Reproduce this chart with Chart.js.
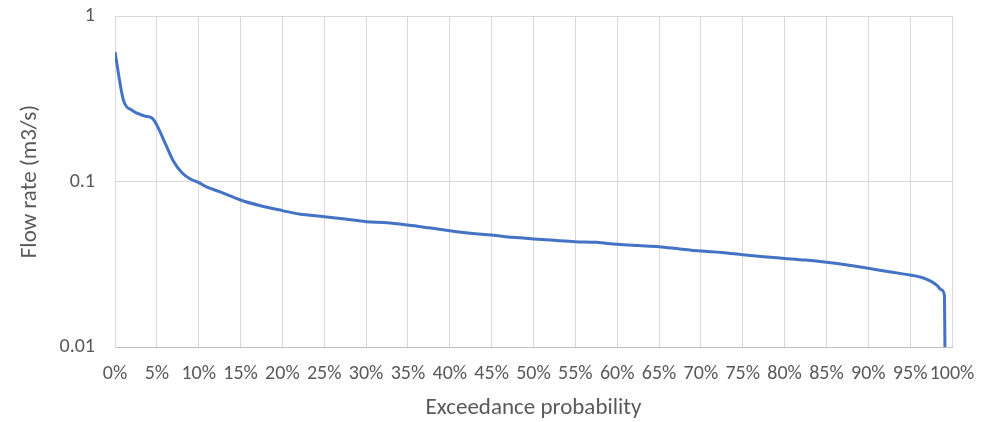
<!DOCTYPE html>
<html>
<head>
<meta charset="utf-8">
<script src="https://cdn.jsdelivr.net/npm/chart.js@4.4.1/dist/chart.umd.min.js"></script>
<style>
  html, body { margin: 0; padding: 0; background: #fff; }
  #wrap { width: 1000px; height: 422px; position: relative; }
</style>
</head>
<body>
<div id="wrap"><canvas id="fdc"></canvas></div>
<script>
// flow duration curve
const exceedance = [0, 0.01, 0.02, 0.035, 0.045, 0.05, 0.06, 0.07, 0.08, 0.09, 0.10, 0.11, 0.125,
  0.15, 0.175, 0.20, 0.22, 0.25, 0.275, 0.30, 0.325, 0.35, 0.375, 0.40, 0.425, 0.45, 0.475, 0.50,
  0.525, 0.55, 0.575, 0.60, 0.625, 0.65, 0.675, 0.70, 0.725, 0.75, 0.775, 0.80, 0.825, 0.85, 0.875,
  0.90, 0.925, 0.95, 0.965, 0.975, 0.982, 0.987, 0.991, 0.992];
const flowRate = [0.606, 0.311, 0.270, 0.249, 0.240, 0.219, 0.170, 0.132, 0.113, 0.1035, 0.0985, 0.0925, 0.0868,
  0.0773, 0.0711, 0.0667, 0.0636, 0.0613, 0.0593, 0.0572, 0.0564, 0.0546, 0.0525, 0.0504, 0.0486, 0.0475, 0.046, 0.045,
  0.0441, 0.0433, 0.0429, 0.0417, 0.041, 0.0404, 0.0391, 0.038, 0.0373, 0.0361, 0.0351, 0.0343, 0.0335, 0.0325, 0.0313,
  0.0299, 0.0285, 0.0272, 0.0262, 0.0249, 0.0236, 0.0222, 0.0205, 0.005];
const yTicks = [0.01, 0.1, 1];

const FONT = "Carlito, 'Liberation Sans', Arial, sans-serif";
const TEXT = '#595959';
const GRID = '#d9d9d9';

const points = exceedance.map((x, i) => ({ x, y: flowRate[i] }));

new Chart(document.getElementById('fdc').getContext('2d'), {
  type: 'line',
  data: {
    datasets: [{
      data: points,
      borderColor: '#4472c4',
      borderWidth: 3,
      pointRadius: 0,
      fill: false,
      cubicInterpolationMode: 'monotone',
    }],
  },
  options: {
    responsive: true, maintainAspectRatio: false, animation: false,
    layout: { padding: { top: 16, right: 48, bottom: 0, left: 0 } },
    plugins: { legend: { display: false }, tooltip: { enabled: false } },
    scales: {
      x: {
        type: 'linear', min: 0, max: 1,
        ticks: {
          stepSize: 0.05, color: TEXT, padding: 15, maxRotation: 0, autoSkip: false,
          font: { family: FONT, size: 20 },
          callback: v => Math.round(v * 100) + '%',
        },
        grid: { color: GRID, lineWidth: 1, drawTicks: false },
        border: { color: '#bfbfbf' },
        title: { display: true, text: 'Exceedance probability', color: TEXT, font: { family: FONT, size: 23 }, padding: { top: 4, bottom: 0 } },
        afterFit: s => { s.height = 422 - 347; },
      },
      y: {
        type: 'logarithmic', min: 0.01, max: 1,
        afterBuildTicks: s => { s.ticks = yTicks.map(v => ({ value: v })); },
        ticks: {
          color: TEXT, padding: 20,
          font: { family: FONT, size: 20 },
          callback: v => String(v),
        },
        grid: { color: GRID, lineWidth: 1, drawTicks: false },
        border: { color: '#d9d9d9' },
        title: { display: true, text: 'Flow rate (m3/s)', color: TEXT, font: { family: FONT, size: 23 }, padding: { top: 16, bottom: 0 } },
        afterFit: s => { s.width = 115; s.paddingTop = 0; s.paddingBottom = 0; },
      },
    },
  },
});
</script>
</body>
</html>
